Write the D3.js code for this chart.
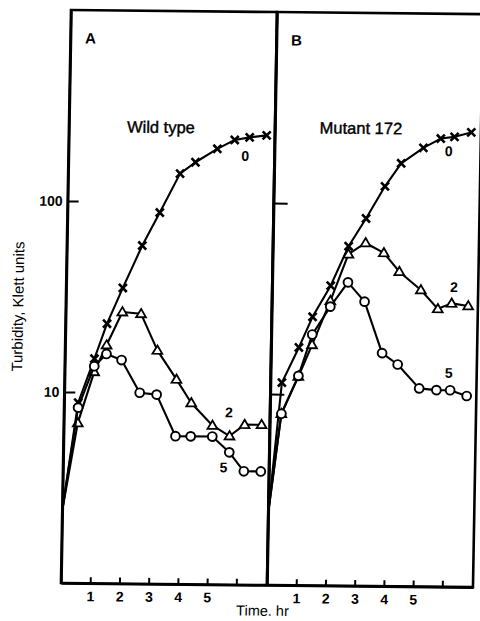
<!DOCTYPE html>
<html><head><meta charset="utf-8">
<script src="https://cdn.jsdelivr.net/npm/d3@7"></script>
<style>body{margin:0;background:#fff;} svg{display:block;}</style>
</head><body>
<svg id="c" width="480" height="621"></svg>
<script>
// ---------- data ----------
const panelLetters = ["A", "B"];
const panelTitles = ["Wild type", "Mutant 172"];
const seriesNames = ["0", "2", "5"];          // minutes of treatment
const seriesMarkers = ["cross", "triangle", "circle"];

const timesA = [0, 0.48, 1.01, 1.42, 1.94, 2.58, 3.16, 3.83, 4.35, 5.09, 5.68, 6.19, 6.77];
const wild0  = [2.4, 8.8, 15.0, 22.9, 35.3, 59, 88, 141, 162, 191, 213, 220, 226];
const wild2  = [2.4, 6.9, 12.8, 17.7, 26.4, 25.9, 16.7, 11.8, 8.9, 6.8, 6.0, 6.9, 6.9];
const wild5  = [2.4, 8.3, 13.7, 15.9, 14.8, 10.0, 9.8, 5.95, 5.95, 5.95, 4.93, 3.93, 3.93];

const timesB = [0, 0.39, 0.95, 1.40, 2.0, 2.59, 3.17, 3.80, 4.34, 5.09, 5.68, 6.15, 6.72];
const mut0   = [2.4, 11.5, 17.6, 25.5, 37.2, 60, 84, 124, 164, 198, 222, 227, 240];
const mut2   = [2.4, 7.9, 12.4, 18.2, 31.0, 54.5, 62.5, 55.6, 44.4, 35.7, 28.5, 30.5, 29.6];
const mut5   = [2.4, 7.9, 12.5, 20.6, 28.9, 38.8, 30.8, 16.6, 14.5, 10.9, 10.7, 10.7, 10.0];

const labelTA = [6.05, 5.65, 5.49];
const labelVA = [176, 8.0, 4.12];
const labelTB = [5.96, 6.22, 6.09];
const labelVB = [191, 37.1, 13.2];

const yTicks = [10, 100];
const yTickLabels = ["10", "100"];
const xTicks = [1, 2, 3, 4, 5, 6];
const xTickLabels = ["1", "2", "3", "4", "5", ""];
const xTitle = "Time. hr";
const yTitle = "Turbidity, Klett units";

// ---------- layout ----------
const ox = 71, oy = 10, pw = 206, ph = 573;
const FONT = "'Liberation Sans', Arial, Helvetica, sans-serif";
const svg = d3.select("#c");
const g = svg.append("g")
  .attr("transform", `translate(${ox},${oy}) matrix(1,0.01,-0.0175,1,0,0)`);

const x = d3.scaleLinear().domain([0, 7.05]).range([0, pw]);
const y = d3.scaleLog().domain([1, 1000]).range([ph, 0]);

const panels = [
  {times: timesA, series: [wild0, wild2, wild5], lt: labelTA, lv: labelVA},
  {times: timesB, series: [mut0, mut2, mut5], lt: labelTB, lv: labelVB}
];

const markerPath = {
  cross: "M-4,-4L4,4M-4,4L4,-4",
  triangle: "M0,-4.9L4.9,3.4L-4.9,3.4Z"
};

panels.forEach((p, i) => {
  const gp = g.append("g").attr("transform", `translate(${i * pw},0)`);

  // frame
  gp.append("rect").attr("x", 0).attr("y", 0).attr("width", pw).attr("height", ph)
    .attr("fill", "none").attr("stroke", "#000").attr("stroke-width", 2.6);

  // y axis
  const ya = d3.axisLeft(y).tickValues(yTicks)
    .tickFormat((d, k) => i === 0 ? yTickLabels[k] : "")
    .tickSizeInner(i === 0 ? -11 : -14).tickSizeOuter(0).tickPadding(5);
  const gy = gp.append("g").call(ya);
  gy.select(".domain").attr("stroke-width", 2.6);
  gy.selectAll(".tick line").attr("stroke-width", 2);
  gy.selectAll(".tick text").attr("font-family", FONT).attr("font-size", 14)
    .attr("font-weight", "bold").attr("fill", "#000");

  // x axis
  const xa = d3.axisBottom(x).tickValues(xTicks)
    .tickFormat((d, k) => xTickLabels[k])
    .tickSizeInner(-6).tickSizeOuter(0).tickPadding(8);
  const gx = gp.append("g").attr("transform", `translate(0,${ph})`).call(xa);
  gx.select(".domain").attr("stroke-width", 2.6);
  gx.selectAll(".tick line").attr("stroke-width", 2);
  gx.selectAll(".tick text").attr("font-family", FONT).attr("font-size", 14)
    .attr("font-weight", "bold").attr("fill", "#000");

  // letter & title
  gp.append("text").attr("x", 20).attr("y", 28).attr("dy", "0.36em")
    .attr("text-anchor", "middle").attr("font-family", FONT).attr("font-size", 15)
    .attr("font-weight", "bold").text(panelLetters[i]);
  gp.append("text").attr("x", i === 0 ? 92 : 86).attr("y", i === 0 ? 116 : 115).attr("dy", "0.36em")
    .attr("text-anchor", "middle").attr("font-family", FONT).attr("font-size", 16.5)
    .attr("stroke", "#000").attr("stroke-width", 0.4)
    .text(panelTitles[i]);

  // series
  const line = d3.line().x(d => x(d[0])).y(d => y(d[1]));
  p.series.forEach((vals, s) => {
    const pts = p.times.map((t, k) => [t, vals[k]]);
    gp.append("path").attr("d", line(pts)).attr("fill", "none")
      .attr("stroke", "#000").attr("stroke-width", 2.1).attr("stroke-linejoin", "round");
    const mk = seriesMarkers[s];
    const sel = gp.append("g").selectAll("g").data(pts.slice(1)).join("g")
      .attr("transform", d => `translate(${x(d[0])},${y(d[1])})`);
    if (mk === "circle") {
      sel.append("circle").attr("r", 4.4).attr("fill", "#fff")
        .attr("stroke", "#000").attr("stroke-width", 1.9);
    } else {
      sel.append("path").attr("d", markerPath[mk])
        .attr("fill", mk === "triangle" ? "#fff" : "none")
        .attr("stroke", "#000").attr("stroke-width", mk === "cross" ? 2.6 : 1.8)
        .attr("stroke-linejoin", "miter");
    }
  });

  // series labels
  seriesNames.forEach((nm, s) => {
    gp.append("text").attr("x", x(p.lt[s])).attr("y", y(p.lv[s])).attr("dy", "0.36em")
      .attr("text-anchor", "middle").attr("font-family", FONT).attr("font-size", 14)
      .attr("font-weight", "bold").text(nm);
  });
});

// axis titles
g.append("text").attr("x", pw - 4).attr("y", ph + 25.5).attr("dy", "0.36em")
  .attr("text-anchor", "middle").attr("font-family", FONT).attr("font-size", 14.5)
  .text(xTitle);
g.append("text").attr("transform", `translate(-48,${297}) rotate(-90)`).attr("dy", "0.36em")
  .attr("text-anchor", "middle").attr("font-family", FONT).attr("font-size", 15)
  .text(yTitle);
</script>
</body></html>
